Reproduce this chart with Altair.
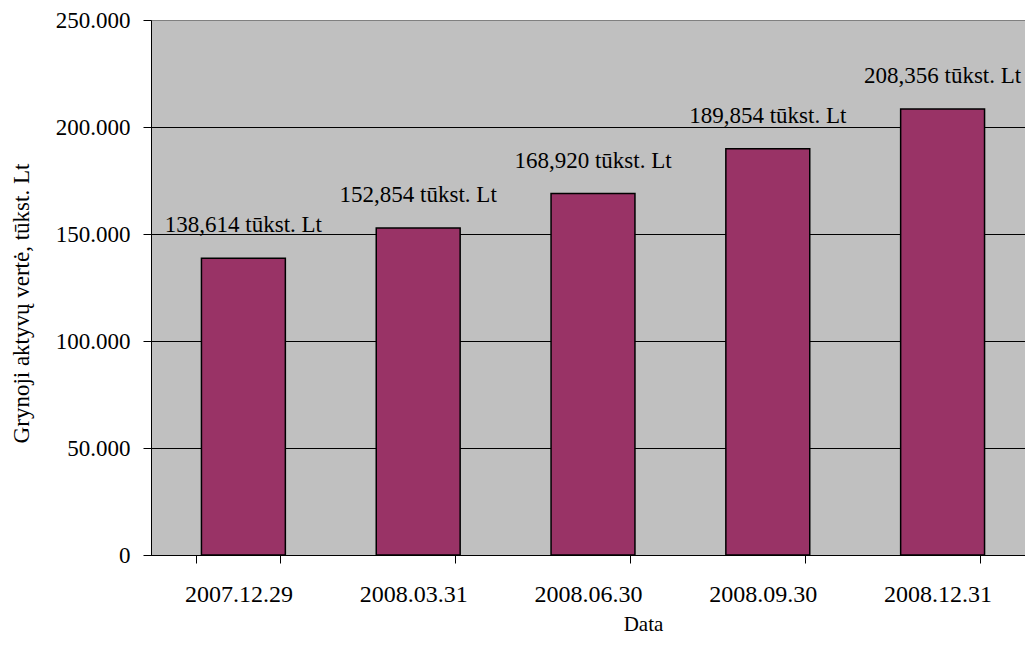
import altair as alt
import pandas as pd

dates = ["2007.12.29", "2008.03.31", "2008.06.30", "2008.09.30", "2008.12.31"]
values = [138614, 152854, 168920, 189854, 208356]
labels = ["138,614 tūkst. Lt", "152,854 tūkst. Lt", "168,920 tūkst. Lt",
          "189,854 tūkst. Lt", "208,356 tūkst. Lt"]
y_ticks = [0, 50000, 100000, 150000, 200000, 250000]

df = pd.DataFrame({"date": dates, "value": values, "label": labels})

FONT = "Liberation Serif"

x = alt.X(
    "date:N", sort=dates, title="Data",
    scale=alt.Scale(paddingInner=0.52, paddingOuter=0.26),
    axis=alt.Axis(
        labelAngle=0, tickBand="extent", grid=False,
        domainColor="black", tickColor="black", tickSize=8,
        labelFont=FONT, labelFontSize=24, labelColor="black", labelPadding=19,
        titleFont=FONT, titleFontSize=21, titleFontWeight="normal", titleColor="black",
        titleX=492, titleY=75, titleBaseline="alphabetic",
    ),
)
y = alt.Y(
    "value:Q", title="Grynoji aktyvų vertė, tūkst. Lt",
    scale=alt.Scale(domain=[0, 250000], nice=False),
    axis=alt.Axis(
        values=y_ticks, format=",d", labelExpr="replace(datum.label, ',', '.')",
        domainColor="black", tickColor="black", tickSize=8,
        gridColor=alt.condition("datum.value == 250000", alt.value("#808080"), alt.value("black")),
        gridWidth=1,
        labelFont=FONT, labelFontSize=23, labelColor="black", labelPadding=13,
        titleFont=FONT, titleFontSize=23, titleFontWeight="normal", titleColor="black",
        titleX=-130, titleY=283, titleBaseline="middle", titleAngle=270,
    ),
)

bars = alt.Chart(df).mark_bar(
    color="#993366", stroke="black", strokeWidth=1.5, xOffset=5
).encode(x=x, y=y)

text = alt.Chart(df).mark_text(
    dy=-26, baseline="alphabetic", font=FONT, fontSize=23, color="black", xOffset=5
).encode(x=alt.X("date:N", sort=dates), y=alt.Y("value:Q"), text="label:N")

chart = alt.layer(bars, text).properties(
    width=874, height=535,
    autosize=alt.AutoSizeParams(type="none"),
    padding={"left": 143, "top": 12, "right": 0, "bottom": 82},
    background="white",
).configure_view(
    fill="#C0C0C0", stroke="#808080", strokeWidth=1
)

chart.save("out.html", embed_options={"renderer": "svg", "actions": False})
